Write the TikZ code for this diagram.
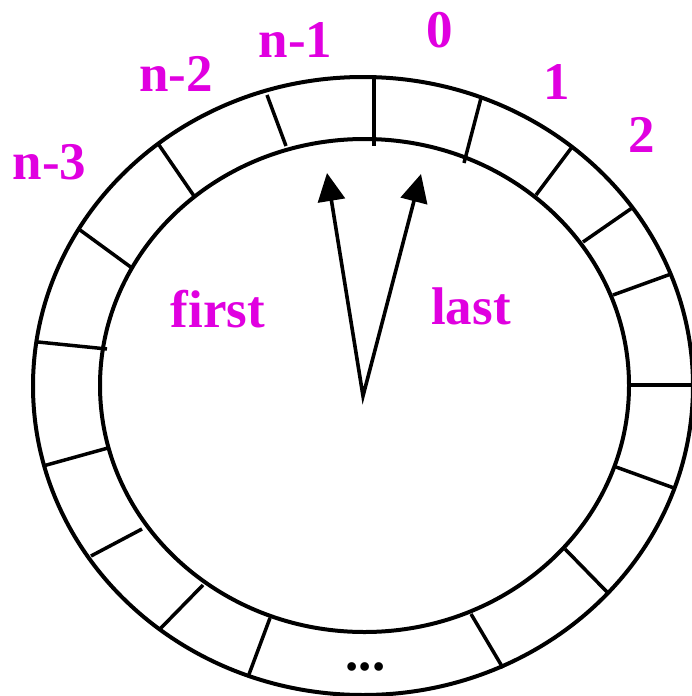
\documentclass[tikz,border=0pt]{standalone}
\usepackage{fontspec}
\setmainfont{Liberation Serif}
\usetikzlibrary{arrows.meta}
\definecolor{cLabel}{RGB}{224,0,224}
\definecolor{cRing}{RGB}{0,0,0}

\begin{document}
\begin{tikzpicture}[x=1pt,y=-1pt,
  lbl/.style={text=cLabel,font=\fontsize{53}{60}\selectfont\bfseries,anchor=base,inner sep=0pt},
  ptr/.style={line width=3.6pt,line join=miter,{Triangle[length=28pt,width=27pt]}-{Triangle[length=28pt,width=27pt]}}]
  \useasboundingbox (0,0) rectangle (691,696);
  \draw[cRing,line width=4pt] (363,386) ellipse [x radius=330pt,y radius=309pt];
  \draw[cRing,line width=4pt] (364.5,385.5) ellipse [x radius=264.5pt,y radius=246.5pt];
  \foreach \xa/\ya/\xb/\yb in {374/77/374/146, 481/98/464/163, 572/147/536/195,
      632/208/583/242, 671/274/613/295, 692/385/631/385, 674/488/616/467,
      608/593/565/549, 503/668/471/614, 248/677/270/618, 159/630/203/585,
      91/556/142/529, 43/466/108/448, 38/342/107/349, 80/230/132/268,
      159/145/194/196, 267/95/286/146} {
    \draw[cRing,line width=3.5pt] (\xa,\ya) -- (\xb,\yb);
  }
  \node[lbl] (nm3) at (49.5,179) {n-3};
  \node[lbl] (nm2) at (176,91) {n-2};
  \node[lbl] (nm1) at (295.5,57) {n-1};
  \node[lbl] (n0) at (440,47) {0};
  \node[lbl] (n1) at (557,99) {1};
  \node[lbl] (n2) at (642,152) {2};
  \node[lbl] (first) at (218,327) {first};
  \node[lbl] (last) at (471,324) {last};
  \node[lbl,text=cRing] (dots) at (365.5,670) {...};
  \coordinate (hub) at (363,396);
  \coordinate (firstTip) at (327,173);
  \coordinate (lastTip) at (421,174);
  \draw[ptr] (firstTip) -- (hub) -- (lastTip);
\end{tikzpicture}
\end{document}
